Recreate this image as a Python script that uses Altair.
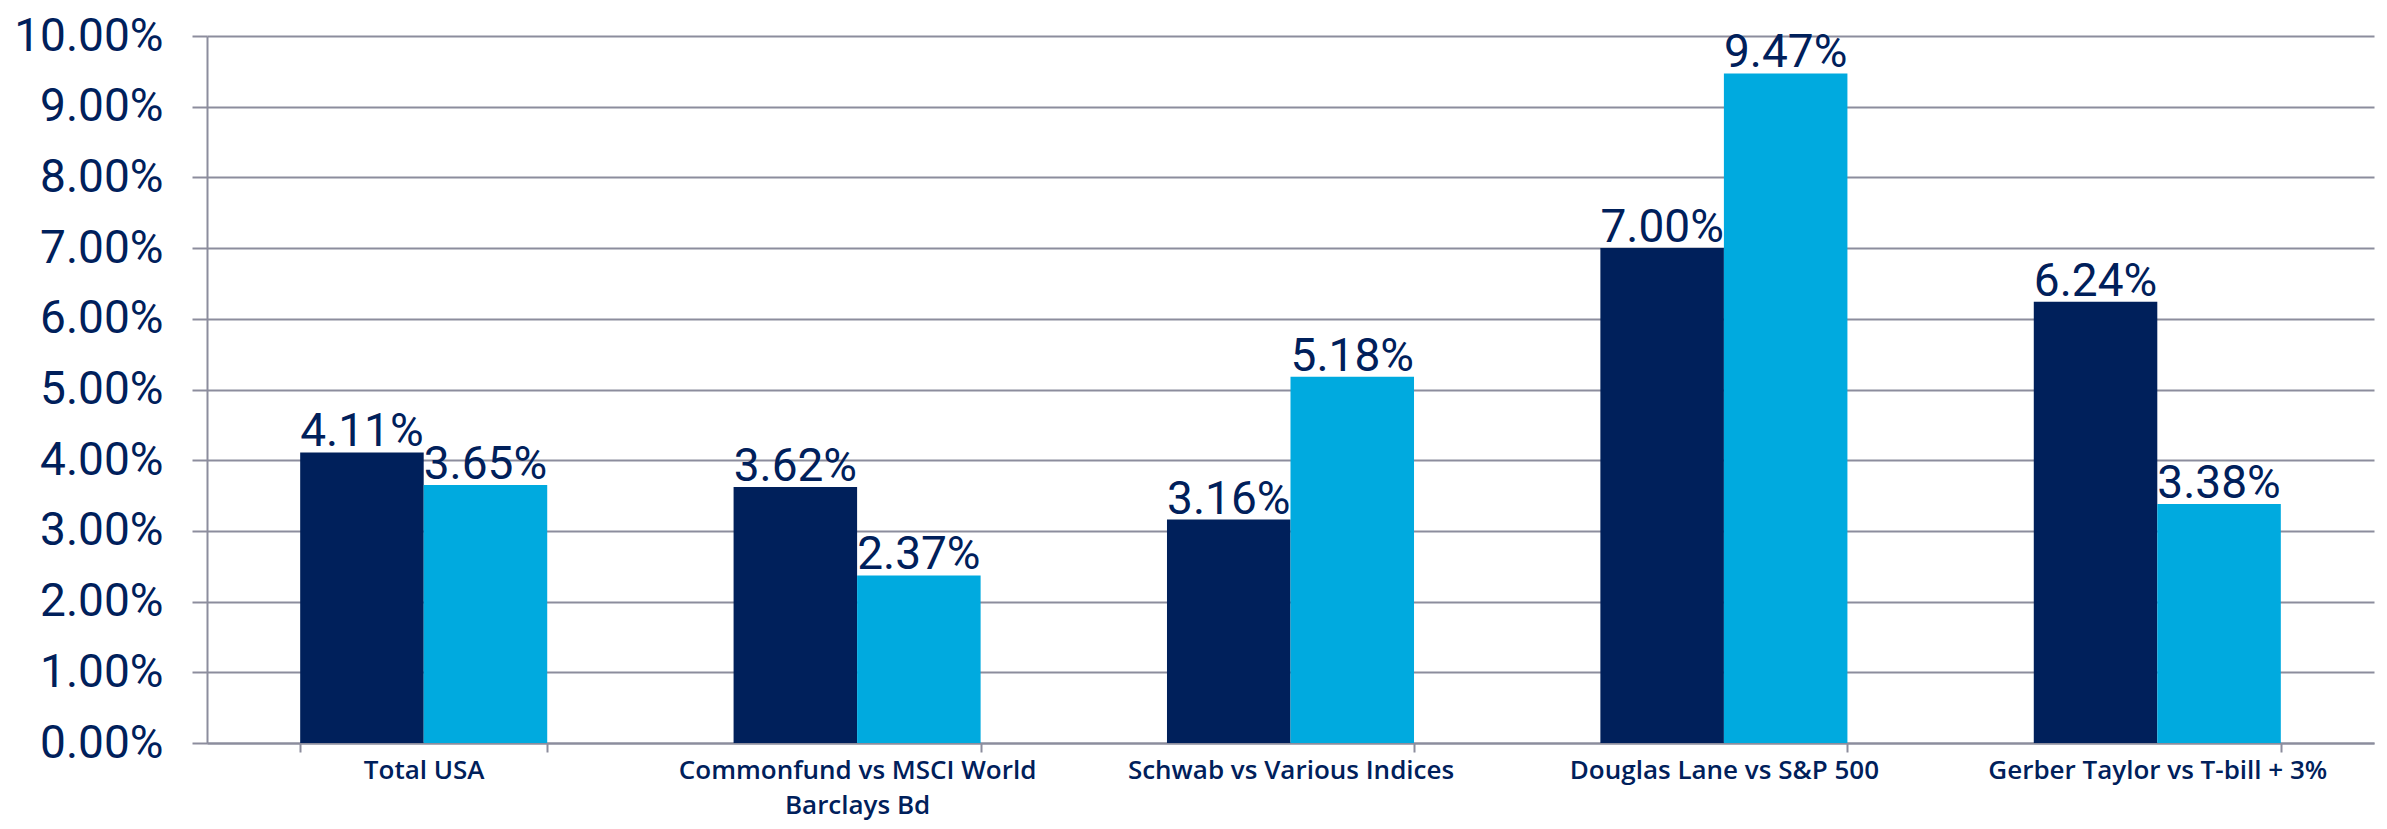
import altair as alt
import pandas as pd

categories = [
    "Total USA",
    "Commonfund vs MSCI World Barclays Bd",
    "Schwab vs Various Indices",
    "Douglas Lane vs S&P 500",
    "Gerber Taylor vs T-bill + 3%",
]
series = ["Manager", "Benchmark"]
manager_pct = [4.11, 3.62, 3.16, 7.00, 6.24]
benchmark_pct = [3.65, 2.37, 5.18, 9.47, 3.38]
y_ticks_pct = [0, 1, 2, 3, 4, 5, 6, 7, 8, 9, 10]

NAVY = "#00205B"
LIGHT = "#00AADF"
GRID = "#8C8D9D"

rows = []
for i, c in enumerate(categories):
    rows.append({"category": c, "series": series[0], "value": manager_pct[i] / 100})
    rows.append({"category": c, "series": series[1], "value": benchmark_pct[i] / 100})
df = pd.DataFrame(rows)

label_expr = (
    "datum.label == 'Commonfund vs MSCI World Barclays Bd' ? "
    "['Commonfund vs MSCI World', 'Barclays Bd'] : datum.label"
)

x = alt.X(
    "category:N",
    sort=categories,
    scale=alt.Scale(paddingInner=0.43, paddingOuter=0.215),
    axis=alt.Axis(
        title=None,
        labelAngle=0,
        tickBand="extent",
        grid=False,
        domainColor=GRID,
        domainWidth=2,
        tickColor=GRID,
        tickWidth=2,
        tickSize=9,
        labelPadding=5,
        labelFont="Open Sans",
        labelFontWeight=600,
        labelFontSize=26,
        labelColor=NAVY,
        labelLineHeight=35,
        labelBaseline="top",
        labelLimit=800,
        labelExpr=label_expr,
    ),
)
xo = alt.XOffset("series:N", sort=series, scale=alt.Scale(paddingInner=0, paddingOuter=0))
y = alt.Y(
    "value:Q",
    scale=alt.Scale(domain=[0, 0.10], nice=False),
    axis=alt.Axis(
        title=None,
        values=[v / 100 for v in y_ticks_pct],
        format=".2%",
        labelFont="Roboto",
        labelFontSize=46,
        labelColor=NAVY,
        labelPadding=29,
        tickSize=15,
        tickColor=GRID,
        tickWidth=2,
        grid=True,
        gridColor=GRID,
        gridWidth=2,
        gridOpacity=1,
        domainColor=GRID,
        domainWidth=2,
    ),
)

bars = alt.Chart(df).mark_bar().encode(
    x=x,
    xOffset=xo,
    y=y,
    color=alt.Color("series:N", sort=series, scale=alt.Scale(domain=series, range=[NAVY, LIGHT]), legend=None),
)

labels = alt.Chart(df).mark_text(
    baseline="alphabetic", dy=-6, font="Roboto", fontSize=46, color=NAVY
).encode(
    x=x,
    xOffset=xo,
    y=y,
    text=alt.Text("value:Q", format=".2%"),
)

chart = (
    alt.layer(bars, labels)
    .properties(
        width=2167,
        height=707,
        autosize="none",
        padding={"left": 199, "top": 28, "right": 5, "bottom": 78},
    )
    .configure_view(stroke=None)
)

chart.save("out.html", embed_options={"renderer": "svg", "actions": False})
